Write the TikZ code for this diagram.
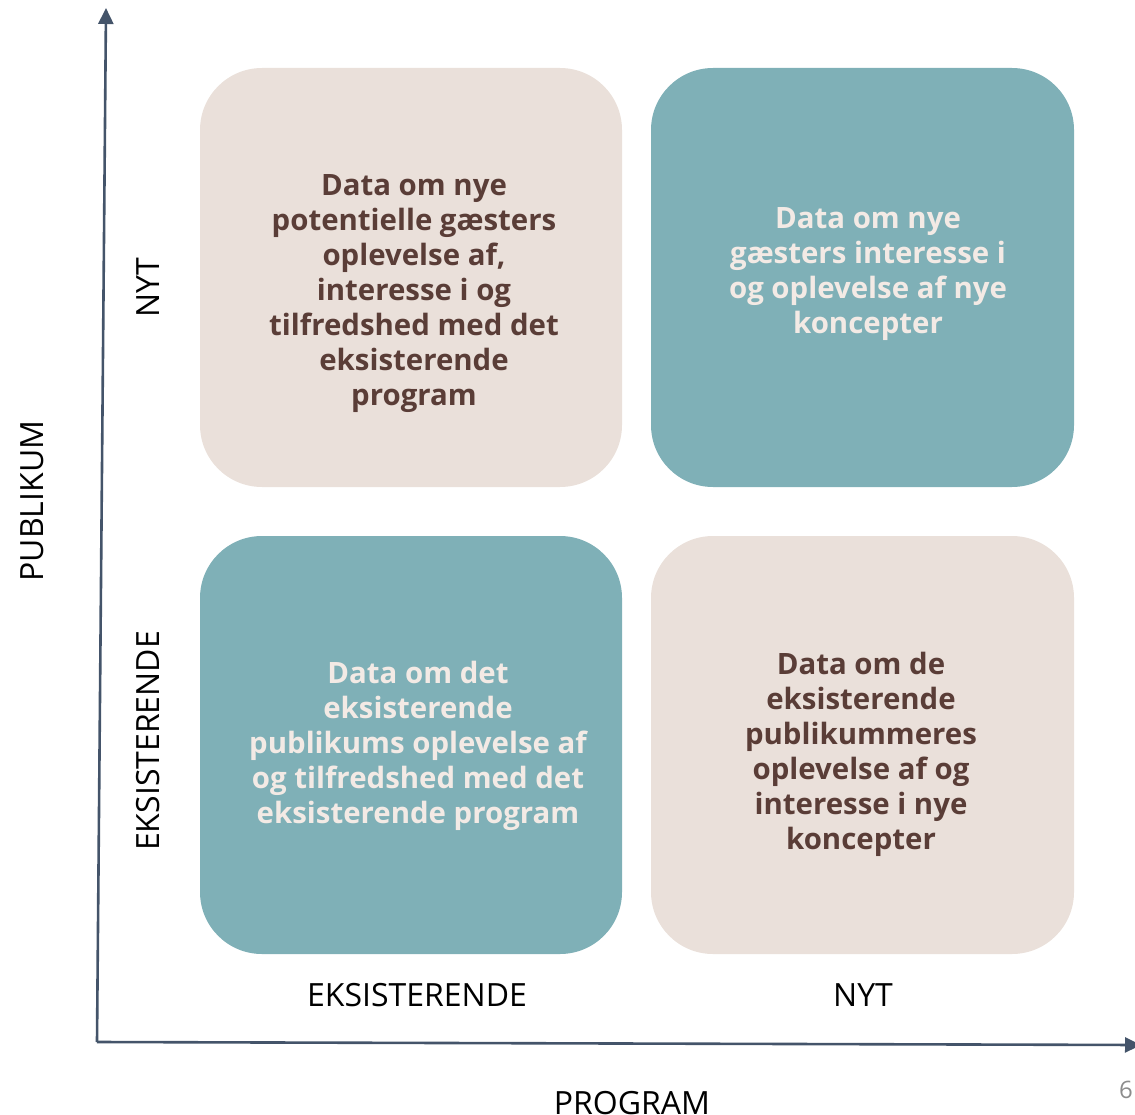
\documentclass[tikz,border=0pt]{standalone}
\usepackage{fontspec}
\setmainfont{Open Sans}
\usetikzlibrary{arrows.meta}
\definecolor{beige}{HTML}{EAE0DA}
\definecolor{teal}{HTML}{7FB0B7}
\definecolor{darktxt}{HTML}{5A3D37}
\definecolor{lighttxt}{HTML}{F3EAE5}
\definecolor{axis}{HTML}{44546A}
\definecolor{pagenum}{HTML}{8C8C8C}
\tikzset{
  quad/.style={rounded corners=62pt},
  boxtext/.style={align=center, font=\fontsize{29.4}{35}\selectfont\bfseries, inner sep=0pt},
  axislabel/.style={font=\fontsize{32}{38}\selectfont, text=black, inner sep=0pt},
  axisline/.style={draw=axis, line width=2.6pt, -{Triangle[width=15pt,length=16pt]}}
}
\begin{document}
\begin{tikzpicture}[x=1pt,y=-1pt]
\useasboundingbox (0,0) rectangle (1135,1115);
% quadrants
\fill[beige, quad] (200,68) rectangle (622,487);
\fill[teal, quad] (651,68) rectangle (1074,487);
\fill[teal, quad] (200,536) rectangle (622,954);
\fill[beige, quad] (651,536) rectangle (1074,954);
% texts
\node[boxtext, text=darktxt] (tl) at (414,294) {Data om nye\\potentielle gæsters\\oplevelse af,\\interesse i og\\tilfredshed med det\\eksisterende\\program};
\node[boxtext, text=lighttxt] (tr) at (868,274) {Data om nye\\gæsters interesse i\\og oplevelse af nye\\koncepter};
\node[boxtext, text=lighttxt] (bl) at (418,746) {Data om det\\eksisterende\\publikums oplevelse af\\og tilfredshed med det\\eksisterende program};
\node[boxtext, text=darktxt] (br) at (861,754) {Data om de\\eksisterende\\publikummeres\\oplevelse af og\\interesse i nye\\koncepter};
% axes
\coordinate (o) at (97,1042);
\coordinate (ytop) at (106,8);
\coordinate (xend) at (1141,1045);
\draw[axisline] (o) -- (ytop);
\draw[axisline] (o) -- (xend);
% axis labels
\node[axislabel, rotate=90] (pub) at (32,501) {PUBLIKUM};
\node[axislabel, rotate=90] (ynyt) at (148,288) {NYT};
\node[axislabel, rotate=90] (yeks) at (148,741) {EKSISTERENDE};
\node[axislabel] (xeks) at (417,995) {EKSISTERENDE};
\node[axislabel] (xnyt) at (863,995) {NYT};
\node[axislabel] (prog) at (632,1103) {PROGRAM};
\node[font=\fontsize{24}{28}\selectfont, text=pagenum, inner sep=0pt] (pg) at (1126,1090) {6};
\end{tikzpicture}
\end{document}
